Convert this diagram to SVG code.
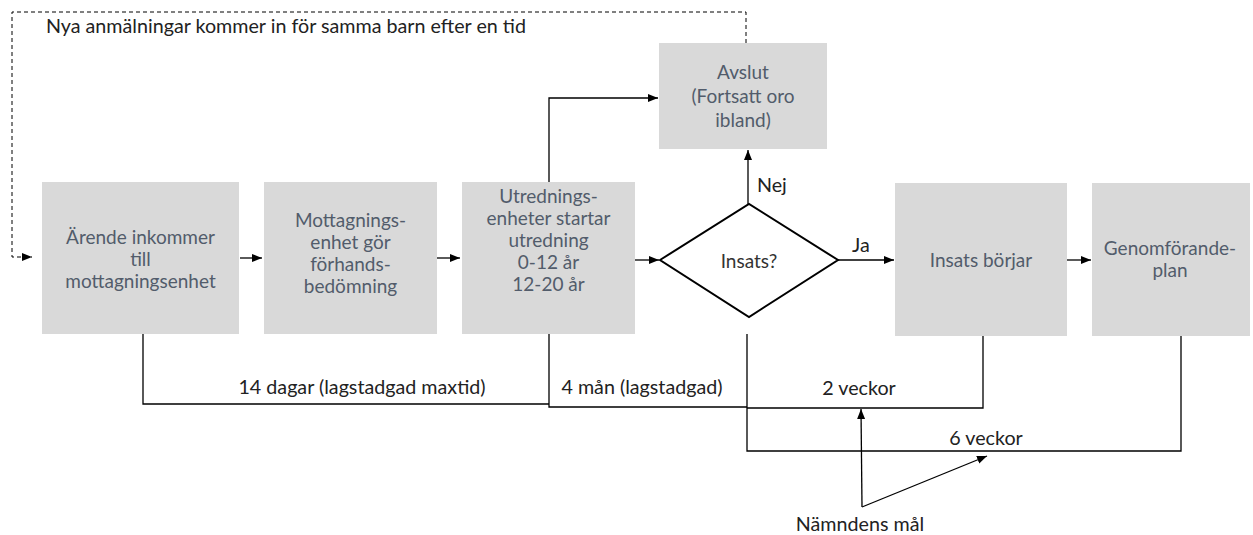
<svg xmlns="http://www.w3.org/2000/svg" width="1253" height="535" viewBox="0 0 1253 535">
<defs>
<marker id="ah" viewBox="0 0 10 10" refX="10" refY="5" markerWidth="10" markerHeight="10" markerUnits="userSpaceOnUse" orient="auto">
<path d="M0,1 L10,5 L0,9 Z" fill="#000"/>
</marker>
<style>
.box{fill:#d9d9d9;}
.bt{font-family:Lato,"Liberation Sans",sans-serif;font-size:19px;fill:#525c6b;text-anchor:middle;}
.lb{font-family:Lato,"Liberation Sans",sans-serif;font-size:19.7px;fill:#222;}
.ln{fill:none;stroke:#000;stroke-width:1.3;}
.dash{fill:none;stroke:#000;stroke-width:1;stroke-dasharray:4,3;}
</style>
</defs>
<rect width="1253" height="535" fill="#fff"/>
<g id="connectors">
<path class="dash" d="M746,43 V12 H12 V257 H32" marker-end="url(#ah)"/>
<path class="ln" d="M240,258 H262" marker-end="url(#ah)"/>
<path class="ln" d="M437,258 H460" marker-end="url(#ah)"/>
<path class="ln" d="M635,260 H659" marker-end="url(#ah)"/>
<path class="ln" d="M549,182 V98 H658" marker-end="url(#ah)"/>
<path class="ln" d="M748,204 V150" marker-end="url(#ah)"/>
<path class="ln" d="M838,260 H894" marker-end="url(#ah)"/>
<path class="ln" d="M1067,260 H1091" marker-end="url(#ah)"/>
<path class="ln" d="M143,334 V404 H549"/>
<path class="ln" d="M549,334 V407 H747"/>
<path class="ln" d="M747,334 V451 H1181 V336"/>
<path class="ln" d="M747,408 H983 V336"/>
<path class="ln" d="M862,507 L861,409" marker-end="url(#ah)"/>
<path class="ln" d="M862,507 L987,456" marker-end="url(#ah)"/>
</g>
<g id="n_arende">
<rect class="box" x="42" y="182" width="197" height="152"/>
<text class="bt" x="140.5" y="244">Ärende inkommer</text>
<text class="bt" x="140.5" y="266">till</text>
<text class="bt" x="140.5" y="288">mottagningsenhet</text>
</g>
<g id="n_mottagning">
<rect class="box" x="264" y="182" width="173" height="152"/>
<text class="bt" x="350.5" y="227">Mottagnings-</text>
<text class="bt" x="350.5" y="249">enhet gör</text>
<text class="bt" x="350.5" y="271">förhands-</text>
<text class="bt" x="350.5" y="293">bedömning</text>
</g>
<g id="n_utredning">
<rect class="box" x="462" y="182" width="173" height="152"/>
<text class="bt" x="548.5" y="203">Utrednings-</text>
<text class="bt" x="548.5" y="225">enheter startar</text>
<text class="bt" x="548.5" y="247">utredning</text>
<text class="bt" x="548.5" y="269">0-12 år</text>
<text class="bt" x="548.5" y="291">12-20 år</text>
</g>
<g id="n_avslut">
<rect class="box" x="659" y="43" width="168" height="106"/>
<text class="bt" x="743" y="79">Avslut</text>
<text class="bt" x="743" y="103">(Fortsatt oro</text>
<text class="bt" x="743" y="127">ibland)</text>
</g>
<g id="n_insats_q">
<path d="M660,260 L749,204 L838,260 L749,317 Z" fill="#fff" stroke="#000" stroke-width="2"/>
<text class="lb" x="749" y="268" text-anchor="middle" style="fill:#333;font-size:19px">Insats?</text>
</g>
<g id="n_insats">
<rect class="box" x="895" y="183" width="172" height="153"/>
<text class="bt" x="981" y="267">Insats börjar</text>
</g>
<g id="n_genom">
<rect class="box" x="1092" y="183" width="158" height="153"/>
<text class="bt" x="1170" y="255">Genomförande-</text>
<text class="bt" x="1170" y="277">plan</text>
</g>
<g id="labels">
<text class="lb" x="46" y="33">Nya anmälningar kommer in för samma barn efter en tid</text>
<text class="lb" x="757" y="192">Nej</text>
<text class="lb" x="852" y="252">Ja</text>
<text class="lb" x="362" y="394" text-anchor="middle">14 dagar (lagstadgad maxtid)</text>
<text class="lb" x="642" y="394" text-anchor="middle">4 mån (lagstadgad)</text>
<text class="lb" x="859" y="395" text-anchor="middle">2 veckor</text>
<text class="lb" x="986" y="445" text-anchor="middle">6 veckor</text>
<text class="lb" x="860" y="531" text-anchor="middle">Nämndens mål</text>
</g>
</svg>
